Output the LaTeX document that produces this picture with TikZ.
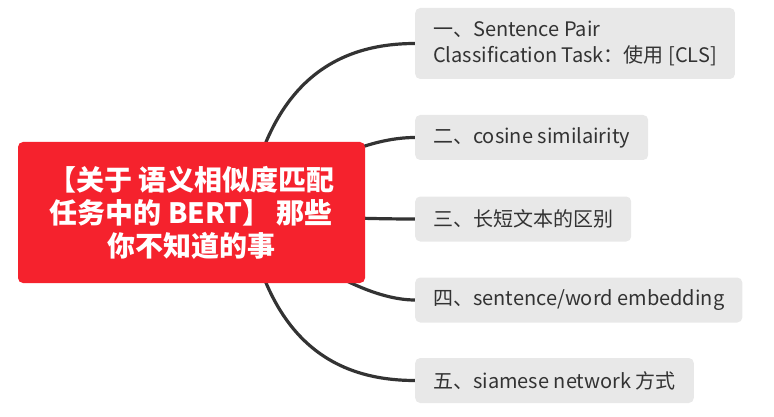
\documentclass[tikz,border=0pt]{standalone}
\usepackage{fontspec}
\setmainfont{Noto Sans CJK SC}
\usepackage{tikz}
\usetikzlibrary{positioning,backgrounds,calc}
\definecolor{rootred}{RGB}{245,34,45}
\definecolor{topicgrey}{RGB}{232,232,232}
\definecolor{inkgrey}{RGB}{51,51,51}
\tikzstyle{root} = [rectangle, rounded corners=5pt, fill=rootred, text=white, font=\fontsize{28}{33}\selectfont\bfseries, align=center, minimum width=347pt, minimum height=141pt]
\tikzstyle{topic} = [rectangle, rounded corners=5pt, fill=topicgrey, text=inkgrey, font=\fontsize{20}{26}\selectfont, align=left, anchor=west, inner xsep=18pt, minimum height=45pt]
\tikzstyle{branch} = [line width=3.2pt, draw=inkgrey]

\begin{document}
\begin{tikzpicture}[x=1pt,y=-1pt]
	\useasboundingbox (0,0) rectangle (774,417);

	% Hauptthema
	\node[root] (bert) at (191.5,212.5) {【关于 语义相似度匹配\\任务中的 BERT】 那些\\你不知道的事};
	\coordinate (hub) at (246,212.5);

	% Unterthemen
	\node[topic, minimum height=71pt] (pair) at (415,43.5) {一、Sentence Pair\\Classification Task：使用 [CLS]};
	\node[topic] (cosine) at (415,137.5) {二、cosine similairity};
	\node[topic] (length) at (415,219) {三、长短文本的区别};
	\node[topic] (embed) at (415,300) {四、sentence/word embedding};
	\node[topic] (siamese) at (415,380.5) {五、siamese network 方式};

	% Verbindungen
	\begin{scope}[on background layer]
		\draw[branch] (hub) .. controls (266,100) and (320,43.5) .. (pair.west);
		\draw[branch] (hub) .. controls (311,162.8) and (369,137.5) .. (cosine.west);
		\draw[branch] (hub) .. controls (307,216.8) and (365,219) .. (length.west);
		\draw[branch] (hub) .. controls (315,270.8) and (374,300) .. (embed.west);
		\draw[branch] (hub) .. controls (266,325) and (320,380.5) .. (siamese.west);
	\end{scope}
\end{tikzpicture}
\end{document}
